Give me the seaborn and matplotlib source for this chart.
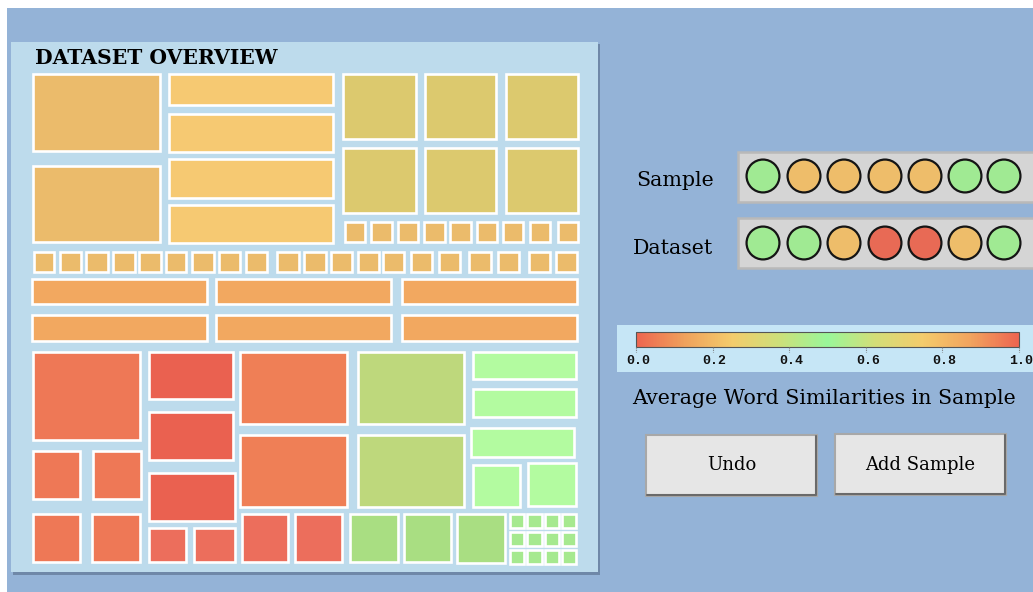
import numpy as np
import matplotlib
matplotlib.use("Agg")
import matplotlib.pyplot as plt
from matplotlib.patches import Rectangle
import seaborn as sns

# ---------------- data ----------------
title = "DATASET OVERVIEW"

# treemap cells (outer bounds in canvas units) and their group
cell_x0 = [32, 32, 168, 168, 168, 168,
           342, 424, 505, 342, 424, 505,
           344, 370, 397, 423, 449, 476, 502, 529, 557,
           33, 59, 85, 112, 138, 165, 191, 218, 245, 276, 303, 330, 357, 382, 410, 438, 468, 497, 528, 555,
           31, 215, 401, 31, 215, 401,
           32, 32, 92, 32, 91,
           148, 148, 148,
           148, 193, 241, 294,
           239, 239,
           357, 357,
           472, 472, 470, 472, 527,
           349, 403, 456,
           509, 526, 544, 561, 509, 526, 544, 561, 509, 526, 544, 561]
cell_y0 = [73, 165, 73, 113, 158, 204,
           73, 73, 73, 147, 147, 147,
           221, 221, 221, 221, 221, 221, 221, 221, 221,
           251, 251, 251, 251, 251, 251, 251, 251, 251, 251, 251, 251, 251, 251, 251, 251, 251, 251, 251, 251,
           278, 278, 278, 314, 314, 314,
           351, 450, 450, 513, 513,
           351, 411, 472,
           527, 527, 513, 513,
           351, 434,
           351, 434,
           351, 388, 427, 464, 462,
           513, 513, 513,
           513, 513, 513, 513, 531, 531, 531, 531, 549, 549, 549, 549]
cell_x1 = [161, 161, 334, 334, 334, 334,
           417, 497, 579, 417, 497, 579,
           366, 393, 419, 446, 472, 498, 524, 551, 579,
           55, 82, 109, 136, 162, 187, 215, 241, 268, 300, 327, 353, 380, 405, 433, 461, 492, 520, 551, 578,
           208, 392, 578, 208, 392, 578,
           141, 81, 142, 81, 141,
           234, 234, 236,
           187, 236, 289, 343,
           348, 348,
           465, 465,
           577, 577, 575, 521, 577,
           399, 452, 506,
           525, 543, 560, 577, 525, 543, 560, 577, 525, 543, 560, 577]
cell_y1 = [152, 243, 106, 153, 199, 244,
           140, 140, 140, 214, 214, 214,
           243, 243, 243, 243, 243, 243, 243, 243, 243,
           273, 273, 273, 273, 273, 273, 273, 273, 273, 273, 273, 273, 273, 273, 273, 273, 273, 273, 273, 273,
           305, 305, 305, 342, 342, 342,
           441, 500, 500, 563, 563,
           400, 461, 522,
           563, 563, 563, 563,
           425, 508,
           425, 508,
           380, 418, 458, 508, 507,
           563, 563, 564,
           529, 529, 529, 529, 547, 547, 547, 547, 565, 565, 565, 565]
cell_group = (["A"] * 2 + ["B"] * 4 + ["C"] * 6 + ["A"] * 9 + ["A"] * 20 + ["D"] * 6 +
              ["E"] * 5 + ["F"] * 3 + ["G"] * 4 + ["H"] * 2 + ["I"] * 2 + ["J"] * 5 +
              ["K"] * 3 + ["L"] * 12)

row_labels = ["Sample", "Dataset"]
sample_levels = ["mid", "low", "low", "low", "low", "mid", "mid"]
dataset_levels = ["mid", "mid", "low", "high", "high", "low", "mid"]

cbar_ticks = [0.0, 0.2, 0.4, 0.6, 0.8, 1.0]
cbar_tick_labels = ["0.0", "0.2", "0.4", "0.6", "0.8", "1.0"]
cbar_title = "Average Word Similarities in Sample"
buttons = ["Undo", "Add Sample"]

# ---------------- styles ----------------
group_colors = {"A": "#EBBB6B", "B": "#F6C972", "C": "#DCC96E", "D": "#F2A860",
                "E": "#EE7856", "F": "#EA6150", "G": "#EC6E5C", "H": "#EF7F56",
                "I": "#BED87C", "J": "#B3FBA0", "K": "#A9DE82", "L": "#A6E98F"}
level_colors = {"mid": "#A0EA93", "low": "#EEBD6A", "high": "#E86A55"}

sns.set_theme(style="white")
plt.rcParams["font.family"] = ["DejaVu Serif", "DejaVu Sans"]
plt.rcParams["text.color"] = "black"

W, H = 1033, 592
fig = plt.figure(figsize=(W / 100, H / 100), dpi=100)
fig.patch.set_facecolor("white")
ax = fig.add_axes([0, 0, 1, 1])
ax.set_axis_off()

# background
ax.add_patch(Rectangle((7, 8), W - 7, H - 8, facecolor="#94B3D7", edgecolor="none", zorder=0))
# panel with shadow
ax.add_patch(Rectangle((13, 44), 587, 531, facecolor="#6F88A8", edgecolor="none", zorder=1))
ax.add_patch(Rectangle((11, 42), 587, 530, facecolor="#BDDBEC", edgecolor="none", zorder=2))
ax.text(35, 58, title, fontsize=14.6, fontweight="heavy", family=["DejaVu Serif"],
        ha="left", va="center", color="black", zorder=5)

# treemap
for x0, y0, x1, y1, g in zip(cell_x0, cell_y0, cell_x1, cell_y1, cell_group):
    ax.add_patch(Rectangle((x0 + 1.2, y0 + 1.2), x1 - x0 - 2.4, y1 - y0 - 2.4,
                           facecolor=group_colors[g], edgecolor="white", linewidth=1.9, zorder=3))

# sample / dataset rows
circle_x = [763, 804, 844, 885, 925, 965, 1004]
row_y = [176, 243]
box_y = [(152, 202), (218, 268)]
label_x = [636, 633]
for i, (lab, levels) in enumerate(zip(row_labels, [sample_levels, dataset_levels])):
    ax.add_patch(Rectangle((738, box_y[i][0]), 296, box_y[i][1] - box_y[i][0],
                           facecolor="#D5D5D5", edgecolor="#B9B9B9", linewidth=1.8, zorder=3))
    ax.text(label_x[i], row_y[i] + 5, lab, fontsize=14.8, ha="left", va="center",
            color="black", zorder=5)
    sns.scatterplot(x=circle_x, y=[row_y[i]] * len(levels), hue=levels, palette=level_colors,
                    s=560, edgecolor="#151515", linewidth=1.6, legend=False, ax=ax, zorder=6)

# colour bar
ax.add_patch(Rectangle((617, 325), 420, 47, facecolor="#C6E6F6", edgecolor="none", zorder=3))
cmap = sns.blend_palette(["#EE6650", "#F0A25C", "#F4CC6C", "#CDE07A", "#9AF79A",
                          "#D4DE78", "#F4CC6C", "#F2A45E", "#EE6650"], as_cmap=True)
cb_x0, cb_x1, cb_y0, cb_y1 = 636, 1019, 332, 347
grad = np.linspace(0, 1, 400).reshape(1, -1)
ax.imshow(grad, extent=[cb_x0, cb_x1, cb_y1, cb_y0], cmap=cmap, aspect="auto", zorder=4)
ax.add_patch(Rectangle((cb_x0, cb_y0), cb_x1 - cb_x0, cb_y1 - cb_y0, facecolor="none",
                       edgecolor="#555555", linewidth=0.8, zorder=5))
for t, tl in zip(cbar_ticks, cbar_tick_labels):
    tx = cb_x0 + t * (cb_x1 - cb_x0)
    ax.plot([tx, tx], [cb_y1, cb_y1 + 5], color="#777777", lw=0.8, ls=(0, (1, 1)), zorder=5)
    ax.text(tx + 2, 361, tl, fontsize=9.5, fontweight="bold", family=["Liberation Mono"],
            ha="center", va="center", color="#111111", zorder=5)
ax.text(632, 398, cbar_title, fontsize=14.8, ha="left", va="center", color="black", zorder=5)

# buttons
btn_box = [(646, 435, 817, 496), (835, 434, 1006, 495)]
for (x0, y0, x1, y1), lab in zip(btn_box, buttons):
    ax.add_patch(Rectangle((x0, y0), x1 - x0, y1 - y0, facecolor="#E6E6E6",
                           edgecolor="#A8A8A8", linewidth=1.5, zorder=3))
    ax.plot([x0 + 1, x1 - 1, x1 - 1], [y1 - 1, y1 - 1, y0 + 1], color="#6A6A6A", lw=1.5, zorder=4)
    ax.text((x0 + x1) / 2, (y0 + y1) / 2, lab, fontsize=13, ha="center", va="center",
            color="black", zorder=5)

ax.set_xlim(0, W)
ax.set_ylim(H, 0)
fig.savefig("out.png", dpi=100, facecolor="white")
